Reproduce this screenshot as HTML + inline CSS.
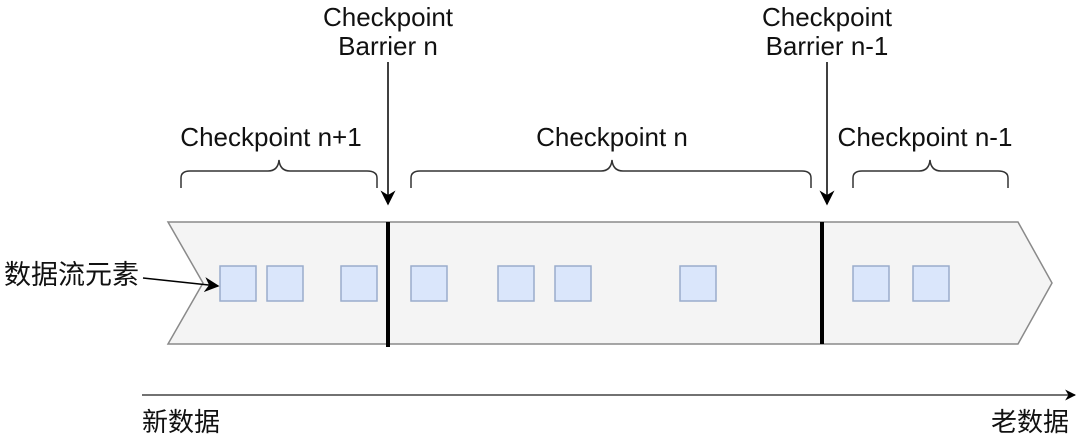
<!DOCTYPE html>
<html><head><meta charset="utf-8"><style>
html,body{margin:0;padding:0;background:#fff;width:1080px;height:440px;overflow:hidden}
text{font-family:"Liberation Sans","Noto Sans CJK SC",sans-serif;fill:#111}
</style></head><body>
<svg width="1080" height="440" viewBox="0 0 1080 440">
<defs>
<marker id="ah" viewBox="0 0 10 10" refX="9" refY="5" markerWidth="11" markerHeight="11" markerUnits="userSpaceOnUse" orient="auto"><path d="M0,0 L10,5 L0,10 L3,5 z" fill="#000"/></marker>
<marker id="ah2" viewBox="0 0 10 10" refX="9" refY="5" markerWidth="15" markerHeight="15" markerUnits="userSpaceOnUse" orient="auto"><path d="M0,0 L10,5 L0,10 L3,5 z" fill="#000"/></marker>
</defs>
<polygon points="168,222 1018,222 1052,283 1018,344 168,344 203,283" fill="#f4f4f4" stroke="#8a8a8a" stroke-width="1.5"/>
<g fill="#dae6fb" stroke="#9aaccb" stroke-width="1.5">
<rect x="220" y="266" width="36" height="35"/><rect x="267" y="266" width="36" height="35"/><rect x="341" y="266" width="36" height="35"/>
<rect x="411" y="266" width="36" height="35"/><rect x="498" y="266" width="36" height="35"/><rect x="555" y="266" width="36" height="35"/>
<rect x="680" y="266" width="36" height="35"/><rect x="853" y="266" width="36" height="35"/><rect x="913" y="266" width="36" height="35"/>
</g>
<line x1="388" y1="222" x2="388" y2="347" stroke="#000" stroke-width="4"/>
<line x1="822" y1="222" x2="822" y2="344" stroke="#000" stroke-width="4"/>
<line x1="388" y1="62" x2="388" y2="204" stroke="#000" stroke-width="1.5" marker-end="url(#ah2)"/>
<line x1="827" y1="62" x2="827" y2="204" stroke="#000" stroke-width="1.5" marker-end="url(#ah2)"/>
<g fill="none" stroke="#333" stroke-width="1.5">
<path d="M181,188 V178 Q181,171 190,171 H268 Q278,171 279,160 Q280,171 290,171 H367 Q377,171 377,178 V188"/>
<path d="M411,188 V178 Q411,171 420,171 H601 Q611,171 612,160 Q613,171 623,171 H802 Q811,171 811,178 V188"/>
<path d="M853,188 V178 Q853,171 862,171 H919 Q929,171 930,160 Q931,171 941,171 H998 Q1008,171 1008,178 V188"/>
</g>
<text x="271" y="146" font-size="26" text-anchor="middle">Checkpoint n+1</text>
<text x="612" y="146" font-size="26" text-anchor="middle">Checkpoint n</text>
<text x="925" y="146" font-size="26" text-anchor="middle">Checkpoint n-1</text>
<text font-size="26" text-anchor="middle"><tspan x="388" y="26">Checkpoint</tspan><tspan x="388" y="55">Barrier n</tspan></text>
<text font-size="26" text-anchor="middle"><tspan x="827" y="26">Checkpoint</tspan><tspan x="827" y="55">Barrier n-1</tspan></text>
<text x="4" y="284" font-size="27">数据流元素</text>
<line x1="143" y1="278" x2="218" y2="286" stroke="#000" stroke-width="1.5" marker-end="url(#ah2)"/>
<line x1="142" y1="395" x2="1075" y2="395" stroke="#444" stroke-width="1.5" marker-end="url(#ah)"/>
<text x="142" y="431" font-size="26">新数据</text>
<text x="1069" y="431" font-size="26" text-anchor="end">老数据</text>
</svg>
</body></html>
